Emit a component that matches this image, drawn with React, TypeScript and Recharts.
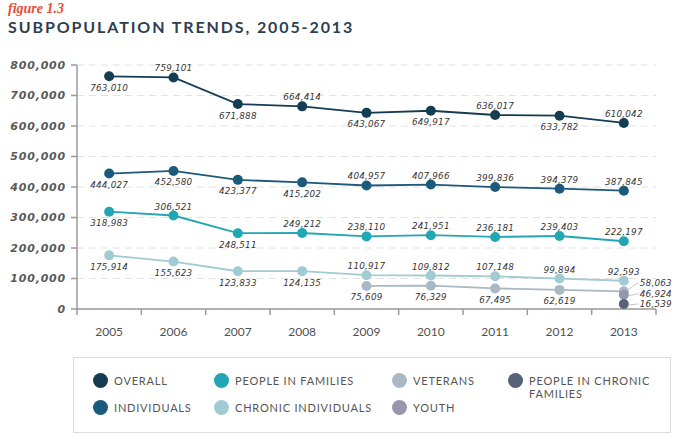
import { CartesianGrid, LabelList, Line, LineChart, XAxis, YAxis } from "recharts";

const years = ["2005", "2006", "2007", "2008", "2009", "2010", "2011", "2012", "2013"];

const overall = [763010, 759101, 671888, 664414, 643067, 649917, 636017, 633782, 610042];
const individuals = [444027, 452580, 423377, 415202, 404957, 407966, 399836, 394379, 387845];
const families = [318983, 306521, 248511, 249212, 238110, 241951, 236181, 239403, 222197];
const chronicIndividuals = [175914, 155623, 123833, 124135, 110917, 109812, 107148, 99894, 92593];
const veterans = [null, null, null, null, 75609, 76329, 67495, 62619, 58063];
const youth = [null, null, null, null, null, null, null, null, 46924];
const chronicFamilies = [null, null, null, null, null, null, null, null, 16539];

const yTicks = [0, 100000, 200000, 300000, 400000, 500000, 600000, 700000, 800000];

// where each value label sits relative to its point
const overallPlace = ["below", "above", "below", "above", "below", "below", "above", "below", "above"];
const individualsPlace = ["below", "below", "below", "below", "above", "above", "above", "above", "above"];
const familiesPlace = ["below", "above", "below", "above", "above", "above", "above", "above", "above"];
const chronicPlace = ["below", "below", "below", "below", "above", "above", "above", "above", "above"];
const veteransPlace = ["", "", "", "", "below", "below", "below", "below", "right-up"];
const youthPlace = ["", "", "", "", "", "", "", "", "right-mid"];
const chronicFamPlace = ["", "", "", "", "", "", "", "", "right-down"];

const data = years.map((year, i) => ({
  idx: i,
  year,
  overall: overall[i],
  individuals: individuals[i],
  families: families[i],
  chronicIndividuals: chronicIndividuals[i],
  veterans: veterans[i],
  youth: youth[i],
  chronicFamilies: chronicFamilies[i],
}));

const xTicks: number[] = [];
for (let i = -0.5; i <= years.length - 0.5; i += 0.5) xTicks.push(i);

const colors = {
  overall: "#153d52",
  individuals: "#1b5a7a",
  families: "#22a6b3",
  chronicIndividuals: "#a1cbd2",
  veterans: "#a9b8c2",
  youth: "#9896ab",
  chronicFamilies: "#56627a",
};

const fmt = (v: number) => v.toLocaleString("en-US");

const labelStyle = {
  fontFamily: "DejaVu Sans",
  fontStyle: "italic" as const,
  fontSize: 8.8,
  letterSpacing: 0.2,
  fill: "#363636",
};

// [leader start dy, leader end dy, label dy]
const rightOffsets: Record<string, [number, number, number]> = {
  "right-up": [-2, -9, -8],
  "right-mid": [1, -1, -1],
  "right-down": [1, 0, 0],
};

function placedLabel(places: string[]) {
  return (props: any) => {
    const { x, y, value, index } = props;
    if (value == null || x == null) return null;
    const p = places[index];
    if (!p) return null;
    if (p.startsWith("right")) {
      const [a, b, c] = rightOffsets[p];
      return (
        <g>
          <line x1={x + 5} y1={y + a} x2={x + 15} y2={y + b} stroke="#c8c8c8" strokeWidth={1} />
          <text x={x + 16} y={y + c} textAnchor="start" dominantBaseline="central" {...labelStyle}>
            {fmt(value)}
          </text>
        </g>
      );
    }
    return (
      <text
        x={x}
        y={p === "above" ? y - 9 : y + 11.5}
        textAnchor="middle"
        dominantBaseline="central"
        {...labelStyle}
      >
        {fmt(value)}
      </text>
    );
  };
}

const YearTick = (props: any) => {
  const { x, y, payload } = props;
  const v = payload.value;
  if (Number.isInteger(v)) {
    return (
      <text
        x={x}
        y={y + 22}
        textAnchor="middle"
        dominantBaseline="central"
        fontFamily="Lato"
        fontSize={12}
        fill="#505050"
      >
        {years[v]}
      </text>
    );
  }
  return <line x1={x} x2={x} y1={y} y2={y + 6} stroke="#9a9a9a" strokeWidth={1.5} />;
};

const series = [
  { key: "overall", places: overallPlace },
  { key: "individuals", places: individualsPlace },
  { key: "families", places: familiesPlace },
  { key: "chronicIndividuals", places: chronicPlace },
  { key: "veterans", places: veteransPlace },
  { key: "youth", places: youthPlace },
  { key: "chronicFamilies", places: chronicFamPlace },
] as const;

const legendItems = [
  { key: "overall", label: ["OVERALL"], left: 93, top: 373 },
  { key: "individuals", label: ["INDIVIDUALS"], left: 93, top: 400 },
  { key: "families", label: ["PEOPLE IN FAMILIES"], left: 214, top: 373 },
  { key: "chronicIndividuals", label: ["CHRONIC INDIVIDUALS"], left: 214, top: 400 },
  { key: "veterans", label: ["VETERANS"], left: 392, top: 373 },
  { key: "youth", label: ["YOUTH"], left: 392, top: 400 },
  { key: "chronicFamilies", label: ["PEOPLE IN CHRONIC", "FAMILIES"], left: 508, top: 373 },
];

export default function App() {
  return (
    <div style={{ position: "absolute", left: 0, top: 0, width: 677, height: 441, background: "#fff" }}>
      <div
        style={{
          position: "absolute",
          left: 8,
          top: 1,
          fontFamily: "Liberation Serif",
          fontStyle: "italic",
          fontWeight: 700,
          fontSize: 14,
          color: "#e94b35",
        }}
      >
        figure 1.3
      </div>
      <div
        style={{
          position: "absolute",
          left: 8,
          top: 17,
          fontFamily: "Lato",
          fontWeight: 700,
          fontSize: 16,
          letterSpacing: 1.9,
          color: "#2d3e50",
          whiteSpace: "nowrap",
        }}
      >
        SUBPOPULATION TRENDS, 2005-2013
      </div>
      <div style={{ position: "absolute", left: 0, top: 0 }}>
        <LineChart width={677} height={350} data={data} margin={{ top: 65, right: 21, bottom: 11, left: 7 }}>
          <CartesianGrid vertical={false} stroke="#e2e2e2" strokeDasharray="7 5" />
          <XAxis
            dataKey="idx"
            type="number"
            domain={[-0.5, years.length - 0.5]}
            ticks={xTicks}
            interval={0}
            tick={<YearTick />}
            tickLine={false}
            tickSize={0}
            tickMargin={0}
            height={30}
            stroke="#9a9a9a"
            strokeWidth={1.5}
          />
          <YAxis
            domain={[0, 800000]}
            ticks={yTicks}
            width={70}
            tickFormatter={fmt}
            tickSize={6}
            tickMargin={5}
            stroke="#9a9a9a"
            strokeWidth={1.5}
            tick={{
              fill: "#58585a",
              fontFamily: "DejaVu Sans",
              fontStyle: "italic",
              fontWeight: 700,
              fontSize: 11,
              letterSpacing: 0.8,
            }}
          />
          {series.map((s) => (
            <Line
              key={s.key}
              dataKey={s.key}
              type="linear"
              stroke={colors[s.key]}
              strokeWidth={1.8}
              dot={{ r: 5, fill: colors[s.key], stroke: colors[s.key], strokeWidth: 0 }}
              activeDot={false}
              isAnimationActive={false}
            >
              <LabelList dataKey={s.key} content={placedLabel(s.places as unknown as string[])} />
            </Line>
          ))}
        </LineChart>
      </div>
      <div
        style={{
          position: "absolute",
          left: 73,
          top: 357,
          width: 598,
          height: 76,
          border: "1px solid #dedede",
          boxSizing: "border-box",
        }}
      />
      {legendItems.map((it) => (
        <div key={it.key} style={{ position: "absolute", left: it.left, top: it.top }}>
          <div
            style={{
              position: "absolute",
              left: 0,
              top: 0,
              width: 15,
              height: 15,
              borderRadius: "50%",
              background: colors[it.key as keyof typeof colors],
            }}
          />
          <div
            style={{
              position: "absolute",
              left: 21,
              top: 1,
              fontFamily: "Lato",
              fontSize: 11,
              letterSpacing: 0.8,
              lineHeight: "13px",
              color: "#555",
              whiteSpace: "nowrap",
            }}
          >
            {it.label.map((l) => (
              <div key={l}>{l}</div>
            ))}
          </div>
        </div>
      ))}
    </div>
  );
}
